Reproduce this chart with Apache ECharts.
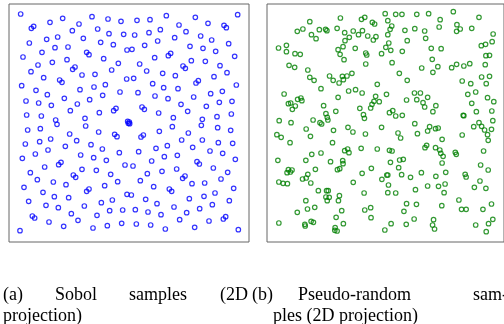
<!DOCTYPE html>
<html>
<head>
<meta charset="utf-8">
<script src="https://cdn.jsdelivr.net/npm/echarts@6/dist/echarts.min.js"></script>
<style>
  html, body { margin: 0; padding: 0; background: #fff; }
  #main { width: 504px; height: 324px; }
</style>
</head>
<body>
<div id="main"></div>
<script>
// point positions, unit square drawn as 720 x 714
var sobolTopLeft = [[35,30],[67,73],[74,67],[123,55],[161,43],[210,60],[249,38],[297,45],[336,52],[190,80],[266,75],[300,89],[344,91],[113,106],[146,99],[223,103],[61,117],[275,115],[313,122],[138,131],[177,129],[99,145],[233,145],[240,152],[42,159],[174,167],[284,164],[130,175],[87,183],[328,178],[191,196],[198,189],[66,203],[308,198],[219,213],[258,211],[104,221],[152,228],[159,235],[38,245],[81,259],[213,257],[255,249],[289,242],[115,272],[166,283],[51,291],[242,287],[281,274],[333,264],[89,297],[127,304],[205,300],[184,320],[271,326],[314,320],[321,313],[53,333],[97,336],[140,348],[228,343]];
var sobolTopRight = [[384,49],[423,47],[472,35],[559,40],[597,58],[686,32],[510,63],[645,64],[652,71],[377,93],[420,86],[454,77],[531,83],[575,96],[497,101],[446,111],[608,108],[659,119],[407,124],[543,127],[582,133],[354,138],[369,136],[620,142],[478,155],[485,148],[437,161],[677,157],[547,170],[589,172],[392,180],[522,186],[529,193],[633,185],[413,201],[461,208],[499,215],[654,206],[615,218],[353,225],[374,223],[561,237],[568,230],[431,239],[682,243],[464,251],[507,254],[387,266],[605,269],[640,262],[438,276],[477,284],[554,279],[669,292],[631,295],[399,309],[406,316],[516,301],[592,307],[449,327],[536,322],[667,330],[493,341],[580,346],[624,338]];
var sobolBottomLeft = [[144,361],[230,366],[56,378],[94,374],[182,390],[269,384],[317,391],[324,398],[49,420],[92,413],[125,405],[203,410],[169,427],[246,422],[117,438],[79,450],[280,435],[331,446],[40,463],[215,453],[254,461],[149,482],[156,475],[292,469],[107,489],[348,483],[64,506],[193,513],[200,520],[219,496],[262,499],[305,511],[85,527],[133,534],[171,542],[326,533],[45,550],[287,545],[233,562],[240,555],[102,565],[136,578],[179,581],[354,571],[59,592],[111,604],[277,596],[310,588],[148,611],[226,606],[70,636],[77,642],[187,629],[264,634],[302,620],[341,618],[120,654],[207,649],[33,680],[164,667],[252,672],[295,665],[338,658]];
var sobolBottomRight = [[490,368],[577,364],[626,371],[665,379],[451,382],[538,387],[396,399],[403,393],[518,408],[580,408],[628,416],[671,418],[475,425],[441,433],[551,430],[603,441],[389,443],[505,454],[466,458],[641,448],[428,471],[564,473],[571,480],[679,466],[372,486],[503,495],[613,492],[459,502],[415,509],[656,505],[521,523],[528,516],[587,537],[636,525],[394,530],[549,539],[434,548],[481,555],[488,562],[674,553],[367,573],[585,577],[618,567],[541,584],[410,586],[444,599],[661,590],[495,609],[610,602],[379,617],[572,614],[417,624],[456,632],[533,626],[512,647],[643,645],[650,638],[600,651],[382,660],[425,663],[557,670],[469,675],[688,677]];
var sobolCentre = [[356,352],[361,354],[358,358],[362,359]];

var randomTopLeft = [[130,53],[223,42],[287,46],[297,40],[320,55],[327,60],[92,82],[109,75],[135,92],[149,104],[159,77],[178,76],[182,80],[213,73],[236,86],[250,100],[237,110],[262,81],[278,92],[290,80],[306,96],[323,108],[331,98],[35,132],[59,124],[59,143],[85,149],[101,151],[216,137],[231,128],[222,151],[268,133],[300,147],[303,153],[234,167],[300,180],[67,184],[84,190],[124,198],[130,220],[143,229],[190,216],[201,229],[219,237],[229,217],[232,227],[243,216],[258,208],[335,241],[164,254],[248,261],[269,257],[289,267],[52,270],[93,286],[103,282],[106,290],[65,299],[72,297],[86,306],[77,316],[216,280],[172,305],[330,277],[325,292],[319,301],[315,312],[282,313],[209,322],[179,329],[183,340],[293,332],[296,343]];
var randomTopRight = [[359,29],[391,31],[410,31],[455,31],[491,29],[566,23],[644,40],[367,50],[526,47],[577,62],[379,66],[374,76],[419,79],[449,74],[479,81],[523,69],[587,75],[576,82],[622,73],[367,92],[687,90],[482,103],[426,110],[370,117],[361,130],[376,139],[411,142],[499,133],[529,134],[651,125],[664,121],[684,113],[348,149],[665,155],[676,154],[502,166],[380,176],[470,192],[519,188],[504,205],[561,191],[576,181],[598,186],[616,179],[663,182],[402,208],[652,219],[676,217],[426,229],[593,231],[619,239],[666,239],[363,271],[448,267],[466,267],[488,280],[424,288],[455,287],[474,296],[479,309],[513,305],[610,271],[634,264],[670,281],[689,293],[341,293],[622,298],[504,323],[382,320],[372,326],[391,336],[411,334],[596,334],[598,335],[636,323],[683,321]];
var randomBottomLeft = [[37,350],[73,356],[140,348],[161,356],[166,360],[185,348],[30,392],[43,400],[70,416],[119,375],[132,397],[202,379],[246,370],[261,384],[299,390],[199,416],[33,469],[118,469],[136,451],[164,447],[193,473],[230,470],[231,479],[236,440],[245,435],[249,446],[286,433],[335,435],[61,506],[65,497],[71,504],[76,498],[147,496],[214,497],[221,494],[124,511],[119,522],[108,525],[133,537],[36,534],[49,538],[62,539],[289,508],[317,493],[262,535],[156,560],[181,560],[186,560],[179,579],[189,580],[220,575],[217,590],[183,590],[295,567],[118,590],[92,625],[123,615],[145,610],[227,620],[297,618],[315,611],[316,641],[210,640],[36,657],[115,661],[116,666],[134,652],[141,655],[232,659],[207,671],[206,679],[213,681]];
var randomBottomRight = [[348,370],[449,359],[494,368],[512,374],[520,372],[644,356],[652,367],[661,378],[670,392],[682,376],[686,350],[398,387],[406,402],[457,389],[488,381],[532,406],[593,393],[628,368],[372,439],[380,441],[480,431],[485,424],[512,431],[525,438],[528,448],[535,457],[572,445],[575,451],[658,441],[672,409],[375,475],[403,468],[414,466],[400,491],[532,477],[649,483],[364,513],[367,513],[349,526],[409,512],[436,520],[469,506],[513,517],[543,505],[602,511],[605,519],[672,498],[647,531],[369,543],[367,566],[391,567],[451,557],[488,546],[521,547],[541,540],[538,566],[630,550],[665,553],[583,588],[424,599],[454,601],[416,622],[531,605],[591,616],[605,616],[656,616],[682,600],[447,645],[377,659],[423,661],[506,647],[503,663],[509,675],[634,663],[673,659],[686,646],[358,678],[666,683]];

var captionA = ['(a)', 'Sobol', 'samples', '(2D'];
var captionA2 = 'projection)';
var captionB = ['(b)', 'Pseudo-random', 'sam-'];
var captionB2 = 'ples (2D projection)';

var chart = echarts.init(document.getElementById('main'));

var serif = '18px "Liberation Serif", "Times New Roman", serif';

function ring(color, gridIdx, data) {
  return {
    type: 'scatter',
    xAxisIndex: gridIdx,
    yAxisIndex: gridIdx,
    data: data,
    symbol: 'circle',
    symbolSize: 4.5,
    silent: true,
    itemStyle: {
      color: 'rgba(0,0,0,0)',
      borderColor: color,
      borderWidth: 1.2
    }
  };
}

// word starts of the justified first caption lines
var wordsA = [3, 55, 129, 220];
var wordsB = [252, 298, 473];
var graphics = [];
captionA.forEach(function (w, i) {
  graphics.push({ type: 'text', x: wordsA[i], y: 295, style: { text: w, font: serif, fill: '#000', verticalAlign: 'middle' } });
});
captionB.forEach(function (w, i) {
  graphics.push({ type: 'text', x: wordsB[i], y: 295, style: { text: w, font: serif, fill: '#000', verticalAlign: 'middle' } });
});
graphics.push({ type: 'text', x: 3, y: 316, style: { text: captionA2, font: serif, fill: '#000', verticalAlign: 'middle' } });
graphics.push({ type: 'text', x: 273, y: 316, style: { text: captionB2, font: serif, fill: '#000', verticalAlign: 'middle' } });

chart.setOption({
  animation: false,
  backgroundColor: '#fff',
  grid: [
    { left: 9, top: 4, width: 240, height: 238, show: true, borderColor: '#666', borderWidth: 1, backgroundColor: 'transparent' },
    { left: 267, top: 4, width: 240, height: 238, show: true, borderColor: '#666', borderWidth: 1, backgroundColor: 'transparent' }
  ],
  xAxis: [
    { gridIndex: 0, type: 'value', min: 0, max: 720, show: false },
    { gridIndex: 1, type: 'value', min: 0, max: 720, show: false }
  ],
  yAxis: [
    { gridIndex: 0, type: 'value', min: 0, max: 714, inverse: true, show: false },
    { gridIndex: 1, type: 'value', min: 0, max: 714, inverse: true, show: false }
  ],
  series: [
    ring('#0000ff', 0, sobolTopLeft.concat(sobolTopRight, sobolBottomLeft, sobolBottomRight, sobolCentre)),
    ring('#008000', 1, randomTopLeft.concat(randomTopRight, randomBottomLeft, randomBottomRight))
  ],
  graphic: graphics
});
</script>
</body>
</html>
